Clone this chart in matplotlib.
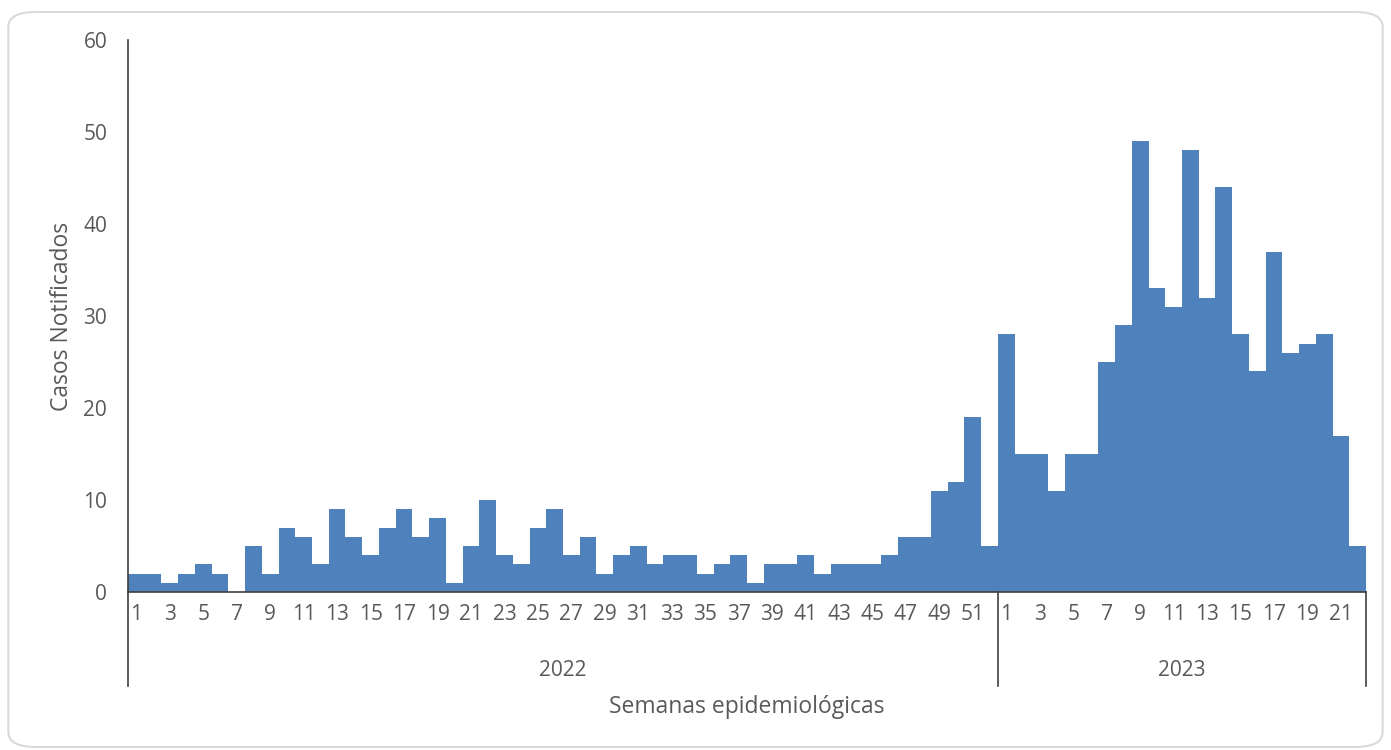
import matplotlib.pyplot as plt
from matplotlib.patches import FancyBboxPatch

# casos notificados por semana epidemiologica
casos_2022 = [2, 2, 1, 2, 3, 2, 0, 5, 2, 7, 6, 3, 9, 6, 4, 7, 9, 6, 8, 1,
              5, 10, 4, 3, 7, 9, 4, 6, 2, 4, 5, 3, 4, 4, 2, 3, 4, 1, 3, 3,
              4, 2, 3, 3, 3, 4, 6, 6, 11, 12, 19, 5]
casos_2023 = [28, 15, 15, 11, 15, 15, 25, 29, 49, 33, 31, 48, 32, 44, 28,
              24, 37, 26, 27, 28, 17, 5]
anos = ["2022", "2023"]
y_ticks = [0, 10, 20, 30, 40, 50, 60]

semanas = list(range(1, len(casos_2022) + 1)) + list(range(1, len(casos_2023) + 1))
valores = casos_2022 + casos_2023
n = len(valores)
x = list(range(n))

plt.rcParams['font.family'] = ['Open Sans', 'DejaVu Sans']
gris = '#595959'

fig = plt.figure(figsize=(13.91, 7.5), dpi=100)
# marco redondeado del grafico
marco = FancyBboxPatch((0.006, 0.004), 0.988, 0.98,
                       boxstyle="round,pad=0,rounding_size=0.02",
                       transform=fig.transFigure, facecolor='none',
                       edgecolor='#D9D9D9', linewidth=1.5)
fig.patches.append(marco)

ax = fig.add_axes([128 / 1391, 158 / 750, 1238 / 1391, 552 / 750])
ax.patch.set_alpha(0)
ax.bar(x, valores, width=1.0, color='#4F81BD', linewidth=0)

ax.set_xlim(-0.5, n - 0.5)
ax.set_ylim(0, 60)
ax.set_yticks(y_ticks)
ax.tick_params(axis='y', length=0, pad=15, labelsize=15, labelcolor=gris)

etiquetas = [str(s) if s % 2 == 1 else '' for s in semanas]
ax.set_xticks(x)
ax.set_xticklabels(etiquetas)
ax.tick_params(axis='x', length=0, pad=9, labelsize=15, labelcolor=gris)

for lado in ['top', 'right']:
    ax.spines[lado].set_visible(False)
ax.spines['left'].set_color('#404040')
ax.spines['bottom'].set_color('#404040')
ax.spines['left'].set_linewidth(1.2)
ax.spines['bottom'].set_linewidth(1.2)

# separadores de anos bajo el eje
abajo = -94 / 552
limites = [-0.5, len(casos_2022) - 0.5, n - 0.5]
trans = ax.get_xaxis_transform()
for xl in limites:
    ax.plot([xl, xl], [0, abajo], transform=trans, color='#404040',
            linewidth=1.2, clip_on=False)
for i, ano in enumerate(anos):
    xm = (limites[i] + limites[i + 1]) / 2
    ax.text(xm, -78 / 552, ano, transform=trans, ha='center', va='center',
            fontsize=15, color=gris)

ax.text((n - 1) / 2, -115 / 552, 'Semanas epidemiológicas', transform=trans,
        ha='center', va='center', fontsize=16.5, color=gris)
ax.set_ylabel('Casos Notificados', fontsize=16.5, color=gris, labelpad=7)

fig.savefig('out.png', dpi=100)
